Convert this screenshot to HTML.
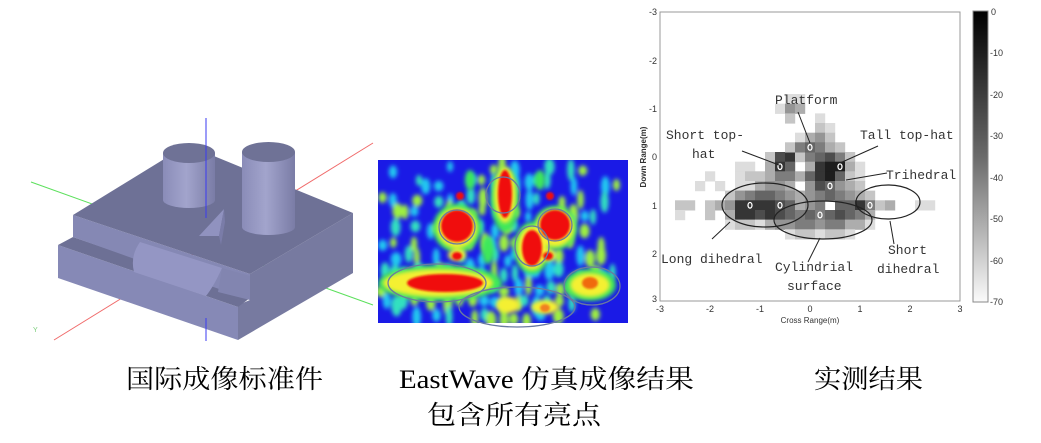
<!DOCTYPE html>
<html><head><meta charset="utf-8">
<style>
html,body{margin:0;padding:0;background:#fff;}
svg{display:block}
</style></head>
<body>
<svg id="s" width="1041" height="443" viewBox="0 0 1041 443" xmlns="http://www.w3.org/2000/svg">
<defs>
<filter id="b3" x="-50%" y="-50%" width="200%" height="200%"><feGaussianBlur stdDeviation="3"/></filter>
<filter id="b2" x="-50%" y="-50%" width="200%" height="200%"><feGaussianBlur stdDeviation="2"/></filter>
<filter id="b1" x="-50%" y="-50%" width="200%" height="200%"><feGaussianBlur stdDeviation="1"/></filter>
<clipPath id="hc"><rect x="378" y="160" width="250" height="163"/></clipPath>
<linearGradient id="cb" x1="0" y1="0" x2="0" y2="1"><stop offset="0" stop-color="#000"/><stop offset="0.5" stop-color="#6a6a6a"/><stop offset="1" stop-color="#fafafa"/></linearGradient>
<linearGradient id="cyl" x1="0" y1="0" x2="1" y2="0"><stop offset="0" stop-color="#8a8cb8"/><stop offset="0.45" stop-color="#a2a4cc"/><stop offset="1" stop-color="#7a7ca6"/></linearGradient>
</defs>

<!-- ===== 3D model ===== -->
<line x1="31" y1="182" x2="373" y2="305" stroke="#5ce05c" stroke-width="1"/>
<line x1="54" y1="340" x2="373" y2="143" stroke="#f06a6a" stroke-width="1"/>
<text x="33" y="332" font-family="Liberation Sans,sans-serif" font-size="7" fill="#7c7">Y</text>
<!-- right face -->
<polygon points="250,274 353,213 353,273 238,340 238,305 250,300" fill="#777aa0"/>
<!-- lower front face -->
<polygon points="58,245 238,307 238,340 58,278" fill="#8689b6"/>
<!-- step top -->
<polygon points="58,245 73,237 250,298 238,307" fill="#6d7095"/>
<!-- upper front face -->
<polygon points="73,215 250,274 250,300 73,237" fill="#8588b4"/>
<!-- top face -->
<polygon points="73,215 187,145 353,213 250,274" fill="#6e7196"/>
<!-- front cylinder bump -->
<path d="M140,242 Q130,256 134,272 L206,296 Q214,286 222,268 Z" fill="#9496c4"/>
<path d="M222,268 L250,276 L250,300 L218,292 Z" fill="#8285b0"/>
<!-- short cylinder -->
<rect x="163" y="153" width="52" height="47" fill="url(#cyl)"/>
<ellipse cx="189" cy="200" rx="26" ry="8" fill="url(#cyl)"/>
<ellipse cx="189" cy="153" rx="26" ry="10" fill="#6f7296"/>
<!-- tall cylinder -->
<rect x="242" y="152" width="53" height="75" fill="url(#cyl)"/>
<ellipse cx="268.5" cy="227" rx="26.5" ry="8" fill="url(#cyl)"/>
<ellipse cx="268.5" cy="152" rx="26.5" ry="10" fill="#6f7296"/>
<!-- trihedral -->
<polygon points="199,236 224,209 219,236" fill="#9092bf"/>
<polygon points="224,209 219,236 221,245 225,222" fill="#7a7ca8"/>
<!-- blue axis -->
<line x1="206" y1="118" x2="206" y2="218" stroke="#3a3af0" stroke-width="1"/>
<line x1="206" y1="318" x2="206" y2="341" stroke="#3a3af0" stroke-width="1"/>

<!-- ===== Heatmap ===== -->
<g clip-path="url(#hc)">
<rect x="378" y="160" width="250" height="163" fill="#1a1ae6"/>
<g id="tex" filter="url(#b2)"></g>
<g filter="url(#b2)" fill="#3ee85a">
<ellipse cx="457" cy="228" rx="24" ry="24"/><ellipse cx="555" cy="228" rx="22" ry="22"/>
<ellipse cx="505" cy="200" rx="14" ry="32"/><ellipse cx="532" cy="248" rx="18" ry="26"/>
<ellipse cx="440" cy="283" rx="62" ry="18"/><ellipse cx="590" cy="285" rx="26" ry="16"/>
<ellipse cx="470" cy="180" rx="5" ry="10"/>
<ellipse cx="540" cy="180" rx="5" ry="10"/><ellipse cx="488" cy="250" rx="6" ry="14"/>
</g>
<g filter="url(#b2)" fill="#f4f030">
<ellipse cx="457" cy="228" rx="20" ry="20"/><ellipse cx="555" cy="228" rx="19" ry="19"/>
<ellipse cx="505" cy="195" rx="11" ry="28"/><ellipse cx="532" cy="248" rx="15" ry="22"/>
<ellipse cx="438" cy="283" rx="55" ry="14"/><ellipse cx="590" cy="285" rx="20" ry="12"/>
<ellipse cx="457" cy="255" rx="9" ry="6"/><ellipse cx="548" cy="255" rx="8" ry="6"/>
<ellipse cx="545" cy="307" rx="14" ry="7"/><ellipse cx="508" cy="305" rx="12" ry="8"/>
</g>
<g filter="url(#b1)" fill="#f01010">
<ellipse cx="457" cy="226" rx="16" ry="16"/><ellipse cx="555" cy="225" rx="15" ry="15"/>
<ellipse cx="505" cy="194" rx="7" ry="24"/><ellipse cx="532" cy="248" rx="10" ry="18"/>
<ellipse cx="445" cy="283" rx="38" ry="9"/><ellipse cx="590" cy="283" rx="8" ry="6" fill="#f06a10"/>
<ellipse cx="457" cy="256" rx="5" ry="4"/><ellipse cx="548" cy="256" rx="5" ry="4"/>
<ellipse cx="460" cy="196" rx="4" ry="4"/><ellipse cx="550" cy="196" rx="4" ry="4"/>
<ellipse cx="545" cy="308" rx="5" ry="4" fill="#f08020"/>
</g>
</g>
<g fill="none" stroke="#6a7aa0" stroke-width="1.3">
<ellipse cx="457" cy="227" rx="18" ry="17"/><ellipse cx="555" cy="225" rx="17" ry="16"/>
<ellipse cx="503" cy="195" rx="17" ry="18"/><ellipse cx="532" cy="246" rx="17" ry="20"/>
<ellipse cx="437" cy="283" rx="49" ry="19"/><ellipse cx="592" cy="286" rx="28" ry="19"/>
<ellipse cx="517" cy="307" rx="58" ry="20"/>
</g>

<!-- ===== Measurement plot ===== -->
<rect x="660" y="12" width="300" height="289" fill="#fff" stroke="#999" stroke-width="1"/>
<g id="cells"></g>
<g id="marks"></g>
<g fill="none" stroke="#222" stroke-width="1.2">
<ellipse cx="765" cy="205" rx="43" ry="22"/>
<ellipse cx="823" cy="220" rx="49" ry="19"/>
<ellipse cx="888" cy="202" rx="32" ry="17"/>
</g>
<g stroke="#222" stroke-width="1">
<line x1="798" y1="112" x2="810" y2="143"/>
<line x1="742" y1="151" x2="779" y2="165"/>
<line x1="878" y1="146" x2="840" y2="163"/>
<line x1="887" y1="173" x2="846" y2="180"/>
<line x1="712" y1="239" x2="730" y2="222"/>
<line x1="808" y1="262" x2="820" y2="238"/>
<line x1="894" y1="244" x2="890" y2="221"/>
</g>
<g font-family="Liberation Mono,monospace" font-size="13" fill="#333">
<text x="775" y="104">Platform</text>
<text x="666" y="139">Short top-</text>
<text x="692" y="158">hat</text>
<text x="860" y="139">Tall top-hat</text>
<text x="886" y="179">Trihedral</text>
<text x="661" y="263">Long dihedral</text>
<text x="775" y="271">Cylindrial</text>
<text x="787" y="290">surface</text>
<text x="888" y="254">Short</text>
<text x="877" y="273">dihedral</text>
</g>
<g font-family="Liberation Sans,sans-serif" font-size="9" fill="#333" text-anchor="middle">
<text x="660" y="312">-3</text><text x="710" y="312">-2</text><text x="760" y="312">-1</text>
<text x="810" y="312">0</text><text x="860" y="312">1</text><text x="910" y="312">2</text><text x="960" y="312">3</text>
<text x="810" y="323" font-size="8">Cross Range(m)</text>
</g>
<g font-family="Liberation Sans,sans-serif" font-size="9" fill="#333" text-anchor="end">
<text x="657" y="15">-3</text><text x="657" y="64">-2</text><text x="657" y="112">-1</text>
<text x="657" y="160">0</text><text x="657" y="209">1</text><text x="657" y="257">2</text><text x="657" y="302">3</text>
</g>
<text transform="translate(646,157) rotate(-90)" font-family="Liberation Sans,sans-serif" font-size="8" font-weight="bold" fill="#333" text-anchor="middle">Down Range(m)</text>
<rect x="973" y="11" width="15" height="291" fill="url(#cb)" stroke="#888" stroke-width="1"/>
<g font-family="Liberation Sans,sans-serif" font-size="9" fill="#333">
<text x="991" y="15">0</text><text x="990" y="56">-10</text><text x="990" y="98">-20</text>
<text x="990" y="139">-30</text><text x="990" y="181">-40</text><text x="990" y="222">-50</text>
<text x="990" y="264">-60</text><text x="990" y="305">-70</text>
</g>

<!-- ===== Captions ===== -->
<g font-family="Liberation Serif,Noto Serif CJK SC,serif" font-size="26" fill="#000">
<text x="126" y="388" textLength="197" lengthAdjust="spacingAndGlyphs">国际成像标准件</text>
<text x="399" y="388" textLength="295" lengthAdjust="spacingAndGlyphs">EastWave 仿真成像结果</text>
<text x="814" y="388" textLength="109" lengthAdjust="spacingAndGlyphs">实测结果</text>
<text x="427" y="424" textLength="174" lengthAdjust="spacingAndGlyphs">包含所有亮点</text>
</g>
</svg>
<script>
var NS="http://www.w3.org/2000/svg";
function el(p,n,a){var e=document.createElementNS(NS,n);for(var k in a)e.setAttribute(k,a[k]);p.appendChild(e);return e;}
// heatmap texture
var seed=7;function rnd(){seed=(seed*9301+49297)%233280;return seed/233280;}
var tex=document.getElementById("tex");
for(var cx=384;cx<626;cx+=11){for(var cy=168;cy<322;cy+=15){
 var dx=Math.abs(cx-503)/125, dy=Math.abs(cy-240)/85;
 var p=1-0.55*dx-0.25*dy; if(cy>265) p+=0.25;
 var r=rnd();
 if(r<p){var col=r<p*0.35?"#9ef040":(r<p*0.7?"#30e0c0":"#22c8f0");
  el(tex,"ellipse",{cx:cx+rnd()*6-3,cy:cy+rnd()*8-4,rx:3+rnd()*2.5,ry:5+rnd()*6,fill:col});}
}}
var rows={
"-1.2":{12:1,13:1},
"-1.0":{11:1,12:4,13:3},
"-0.8":{12:2,15:1},
"-0.6":{15:2,16:1},
"-0.4":{13:1,14:3,15:4,16:2},
"-0.2":{12:2,13:5,14:6,15:5,16:3,17:2},
"0":{10:2,11:7,12:8,13:2,14:5,15:6,16:7,17:5,18:2},
"0.2":{7:1,8:1,10:3,11:8,12:6,14:3,15:8,16:9,17:9,18:3,19:1},
"0.4":{4:1,7:1,8:2,9:2,10:3,11:5,12:5,13:3,14:6,15:8,16:9,17:6,18:2,19:1},
"0.6":{3:1,5:1,7:1,8:1,9:3,10:4,11:4,12:3,14:4,15:7,16:6,17:4,18:3,19:2},
"0.8":{6:2,7:4,8:5,9:6,10:6,11:5,12:4,13:3,14:4,15:5,16:6,17:5,18:4,19:3,20:2},
"1.0":{1:2,2:2,4:2,5:3,6:4,7:8,8:8,9:8,10:8,11:7,12:6,13:3,14:4,15:5,17:6,18:6,19:8,20:5,21:2,22:3,25:1,26:1},
"1.2":{1:1,4:2,6:3,7:8,8:8,9:7,10:8,11:7,12:6,13:5,14:6,15:5,16:6,17:7,18:6,19:5,20:3},
"1.4":{6:1,7:2,8:2,9:1,10:3,11:4,12:4,13:5,14:5,15:4,16:5,17:5,18:3,19:3,20:1},
"1.6":{12:1,13:2,14:2,15:1,16:2,17:2,18:1}};
var g=document.getElementById("cells");
for(var r in rows){var y=parseFloat(r);for(var k in rows[r]){var v=rows[r][k];var x=-2.8+0.2*k;var c=Math.round(245-v*24);
el(g,"rect",{x:(810+50*x-5).toFixed(1),y:(157+48.3*y-5).toFixed(1),width:"10.2",height:"10.2",fill:"rgb("+c+","+c+","+c+")"});}}
var m=[[0,-0.2],[-0.6,0.2],[0.6,0.2],[0.4,0.6],[-1.2,1],[-0.6,1],[0.2,1.2],[1.2,1]],mg=document.getElementById("marks");
m.forEach(function(p){el(mg,"ellipse",{cx:810+50*p[0],cy:157+48.3*p[1],rx:"2",ry:"2.8",fill:"none",stroke:"#fff","stroke-width":"1.3"});});
</script>
</body></html>
